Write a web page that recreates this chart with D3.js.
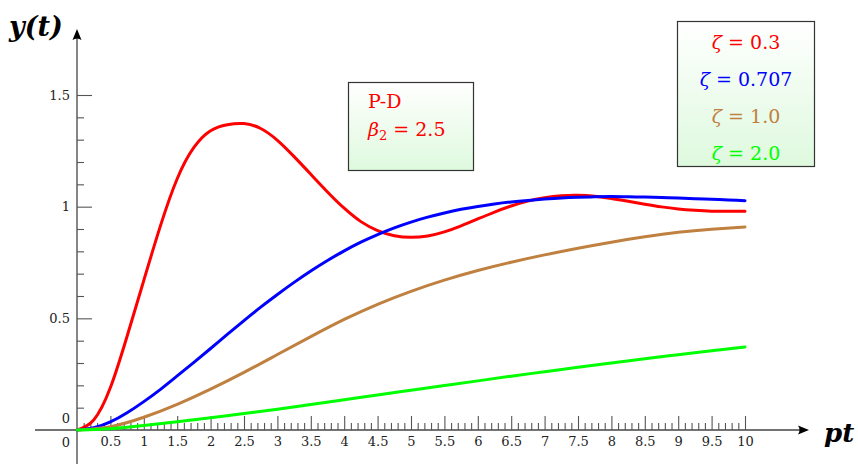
<!DOCTYPE html>
<html><head><meta charset="utf-8">
<script src="https://cdn.jsdelivr.net/npm/d3@7"></script>
<style>body{margin:0;background:#fff}svg{display:block}</style>
</head><body>
<script>
// ---- data ----
const tFine = d3.range(0, 41).map(i => i * 0.25);   // 0 .. 10 step 0.25
const tCoarse = d3.range(0, 21).map(i => i * 0.5);  // 0 .. 10 step 0.5

const zeta03 = [0, 0.045, 0.19, 0.42, 0.67, 0.915, 1.125, 1.265, 1.34, 1.367, 1.372,
  1.35, 1.297, 1.224, 1.145, 1.066, 0.993, 0.933, 0.893, 0.870, 0.863,
  0.869, 0.887, 0.914, 0.945, 0.976, 1.003, 1.025, 1.04, 1.049, 1.051,
  1.047, 1.037, 1.024, 1.011, 0.999, 0.99, 0.984, 0.98, 0.979, 0.979];
const zeta0707 = [0, 0.01, 0.036, 0.077, 0.127, 0.182, 0.242, 0.303, 0.365, 0.428, 0.49,
  0.55, 0.607, 0.661, 0.712, 0.759, 0.802, 0.841, 0.875, 0.905, 0.931,
  0.953, 0.972, 0.988, 1.001, 1.012, 1.021, 1.028, 1.034, 1.039, 1.042,
  1.044, 1.045, 1.044, 1.043, 1.041, 1.039, 1.036, 1.033, 1.03, 1.027];
const zeta10 = [0, 0.015, 0.057, 0.115, 0.183, 0.258, 0.338, 0.418, 0.495, 0.563, 0.621,
  0.671, 0.714, 0.751, 0.784, 0.814, 0.841, 0.865, 0.885, 0.899, 0.909];
const zeta20 = [0, 0.006, 0.02, 0.037, 0.055, 0.074, 0.093, 0.114, 0.135, 0.157, 0.178,
  0.199, 0.22, 0.241, 0.261, 0.281, 0.3, 0.319, 0.337, 0.355, 0.372];

const seriesNames = ["0.3", "0.707", "1.0", "2.0"];
const seriesColors = ["#ff0000", "#0000ff", "#bf8040", "#00ff00"];

const xMajorTicks = [0.5, 1, 1.5, 2, 2.5, 3, 3.5, 4, 4.5, 5, 5.5, 6, 6.5, 7, 7.5, 8, 8.5, 9, 9.5, 10];
const xTickLabels = ["0.5","1","1.5","2","2.5","3","3.5","4","4.5","5","5.5","6","6.5","7","7.5","8","8.5","9","9.5","10"];
const yMajorTicks = [0.5, 1, 1.5];
const yTickLabels = ["0.5", "1", "1.5"];
const xMinorTicks = d3.range(1, 100).filter(i => i % 5 !== 0).map(i => i / 10);
const yMinorTicks = d3.range(1, 15).filter(i => i % 5 !== 0).map(i => i / 10);

// ---- drawing ----
const W = 858, H = 465;
const FONT = "'DejaVu Serif', 'Liberation Serif', serif";
const svg = d3.select("body").append("svg").attr("width", W).attr("height", H)
  .style("font-family", FONT);

const x = d3.scaleLinear().domain([0, 10]).range([77, 745]);
const y = d3.scaleLinear().domain([0, 1.5]).range([430, 95]);

const defs = svg.append("defs");
const grad = defs.append("linearGradient").attr("id", "boxg")
  .attr("x1", 0).attr("y1", 0).attr("x2", 0).attr("y2", 1);
grad.append("stop").attr("offset", "0%").attr("stop-color", "#ffffff");
grad.append("stop").attr("offset", "100%").attr("stop-color", "#def9de");

// axes lines
const axisColor = "#444";
svg.append("line").attr("x1", 35).attr("x2", 806).attr("y1", y(0)).attr("y2", y(0))
  .attr("stroke", axisColor).attr("stroke-width", 1.3);
svg.append("line").attr("x1", x(0)).attr("x2", x(0)).attr("y1", 464).attr("y2", 32)
  .attr("stroke", axisColor).attr("stroke-width", 1.3);
// arrow heads
svg.append("path")
  .attr("d", `M809,${y(0)} L798,${y(0)-4.5} Q801,${y(0)} 798,${y(0)+4.5} Z`)
  .attr("fill", "#000");
svg.append("path")
  .attr("d", `M${x(0)},29 L${x(0)-4.5},40 Q${x(0)},37 ${x(0)+4.5},40 Z`)
  .attr("fill", "#000");

function styleAxis(g) {
  g.select(".domain").remove();
  g.selectAll(".tick line").attr("stroke", "#555").attr("stroke-width", 1.1);
  g.selectAll("text").attr("font-family", FONT).attr("font-size", 13).attr("fill", "#222");
}

svg.append("g").attr("transform", `translate(0,${y(0)})`)
  .call(d3.axisBottom(x).tickValues(xMinorTicks).tickSize(-7).tickFormat(""))
  .call(styleAxis);
svg.append("g").attr("transform", `translate(0,${y(0)})`)
  .call(d3.axisBottom(x).tickValues(xMajorTicks).tickSize(-14).tickPadding(7)
    .tickFormat((d, i) => xTickLabels[i]))
  .call(styleAxis);
svg.append("g").attr("transform", `translate(${x(0)},0)`)
  .call(d3.axisLeft(y).tickValues(yMinorTicks).tickSize(-7).tickFormat(""))
  .call(styleAxis);
svg.append("g").attr("transform", `translate(${x(0)},0)`)
  .call(d3.axisLeft(y).tickValues(yMajorTicks).tickSize(-15).tickPadding(7)
    .tickFormat((d, i) => yTickLabels[i]))
  .call(styleAxis);

// zero labels
svg.append("text").attr("x", x(0) - 7).attr("y", y(0) + 17).attr("text-anchor", "end")
  .attr("font-size", 13).attr("fill", "#222").text("0");
svg.append("text").attr("x", x(0) - 7).attr("y", y(0) - 7).attr("text-anchor", "end")
  .attr("font-size", 13).attr("fill", "#222").text("0");

// axis titles
svg.append("text").attr("x", 9).attr("y", 36).attr("font-size", 27)
  .attr("font-weight", "bold").attr("font-style", "italic").attr("fill", "#000").text("y(t)");
svg.append("text").attr("x", 824).attr("y", 442).attr("font-size", 26)
  .attr("font-weight", "bold").attr("font-style", "italic").attr("fill", "#000").text("pt");

// curves
const line = d3.line().x(d => x(d[0])).y(d => y(d[1])).curve(d3.curveNatural);
const series = [
  { t: tFine, v: zeta03 },
  { t: tFine, v: zeta0707 },
  { t: tCoarse, v: zeta10 },
  { t: tCoarse, v: zeta20 }
];
series.forEach((s, i) => {
  svg.append("path").datum(s.t.map((t, j) => [t, s.v[j]]))
    .attr("d", line).attr("fill", "none")
    .attr("stroke", seriesColors[i]).attr("stroke-width", 3)
    .attr("stroke-linejoin", "round").attr("stroke-linecap", "round");
});

// P-D box
svg.append("rect").attr("x", 348.5).attr("y", 82.5).attr("width", 125).attr("height", 88)
  .attr("fill", "url(#boxg)").attr("stroke", "#333").attr("stroke-width", 1.2);
svg.append("text").attr("x", 368).attr("y", 108).attr("font-size", 19).attr("fill", "#ff0000").text("P-D");
const bt = svg.append("text").attr("x", 368).attr("y", 136).attr("font-size", 19).attr("fill", "#ff0000");
bt.append("tspan").attr("font-style", "italic").text("β");
bt.append("tspan").attr("font-size", 13).attr("dy", 4).text("2");
bt.append("tspan").attr("dy", -4).text(" = 2.5");

// zeta legend
svg.append("rect").attr("x", 677.5).attr("y", 21.5).attr("width", 137).attr("height", 145)
  .attr("fill", "url(#boxg)").attr("stroke", "#333").attr("stroke-width", 1.2);
seriesNames.forEach((n, i) => {
  const t = svg.append("text").attr("x", 746).attr("y", 49 + i * 37)
    .attr("text-anchor", "middle").attr("font-size", 19).attr("fill", seriesColors[i]);
  t.append("tspan").attr("font-style", "italic").text("ζ");
  t.append("tspan").text(" = " + n);
});
</script>
</body></html>
